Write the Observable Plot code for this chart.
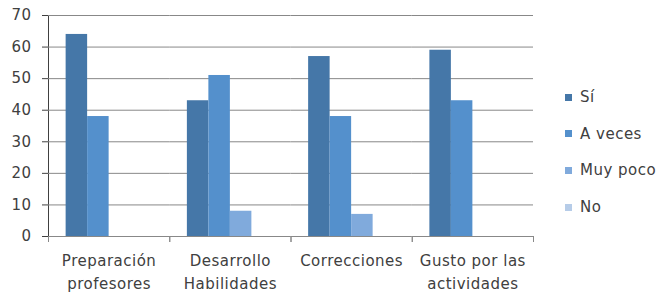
<!DOCTYPE html>
<html>
<head>
<meta charset="utf-8">
<script src="https://cdn.jsdelivr.net/npm/d3@7"></script>
<script src="https://cdn.jsdelivr.net/npm/@observablehq/plot@0.6"></script>
<style>
  html, body { margin: 0; padding: 0; background: #fff; }
  #wrap { position: relative; width: 664px; height: 294px; }
  #legend { position: absolute; left: 565px; top: 86px; font: 15px "DejaVu Sans", sans-serif; letter-spacing: 0.5px; color: #404040; }
  #legend .row { display: flex; align-items: center; height: 22px; margin-bottom: 14.7px; }
  #legend .sw { width: 7px; height: 7px; margin-right: 8px; }
</style>
</head>
<body>
<div id="wrap"></div>
<script>
const categories = ["Preparación profesores", "Desarrollo Habilidades", "Correcciones", "Gusto por las actividades"];
const categoryLabels = ["Preparación\nprofesores", "Desarrollo\nHabilidades", "Correcciones", "Gusto por las\nactividades"];
const series = ["Sí", "A veces", "Muy poco", "No"];
const seriesColors = ["#4577A8", "#5490CC", "#80AADC", "#B6CCE8"];
const si = [64, 43, 57, 59];
const aVeces = [38, 51, 38, 43];
const muyPoco = [0, 8, 7, 0];
const no = [0, 0, 0, 0];
const yTicks = [0, 10, 20, 30, 40, 50, 60, 70];

const valuesBySeries = [si, aVeces, muyPoco, no];
const rows = [];
categories.forEach((c, i) => {
  series.forEach((s, j) => rows.push({cat: c, serie: s, value: valuesBySeries[j][i]}));
});

const gridColor = "#888888";
const labelMap = new Map(categories.map((c, i) => [c, categoryLabels[i]]));

const plot = Plot.plot({
  width: 664,
  height: 294,
  marginLeft: 48,
  marginRight: 131,
  marginTop: 15,
  marginBottom: 58,
  style: {fontFamily: "'DejaVu Sans', sans-serif", fontSize: "15px", letterSpacing: "0.5px", color: "#404040", background: "#fff"},
  fx: {domain: categories, padding: 0, round: false, axis: null},
  x: {domain: series, paddingInner: 0, paddingOuter: 0.82, round: false, axis: null},
  y: {domain: [0, 70], ticks: yTicks, tickSize: 6, tickPadding: 11, line: true, label: null},
  color: {domain: series, range: seriesColors},
  marks: [
    Plot.gridY(yTicks, {stroke: gridColor, strokeOpacity: 1}),
    Plot.frame({anchor: "left", stroke: gridColor, insetTop: 221, insetBottom: -5}),
    Plot.frame({anchor: "right", stroke: gridColor, insetTop: 221, insetBottom: -5}),
    Plot.barY(rows, {fx: "cat", x: "serie", y: "value", fill: "serie"}),
    Plot.axisFx({anchor: "bottom", tickSize: 0, tickPadding: 14, tickFormat: d => labelMap.get(d), fontSize: 15, lineHeight: 1.5, label: null})
  ]
});

const wrap = document.getElementById("wrap");
wrap.appendChild(plot);

// Legend
const legend = document.createElement("div");
legend.id = "legend";
const colorScale = plot.scale("color");
series.forEach((s) => {
  const row = document.createElement("div");
  row.className = "row";
  const sw = document.createElement("span");
  sw.className = "sw";
  sw.style.background = colorScale.apply(s);
  const t = document.createElement("span");
  t.textContent = s;
  row.appendChild(sw);
  row.appendChild(t);
  legend.appendChild(row);
});
wrap.appendChild(legend);
</script>
</body>
</html>
